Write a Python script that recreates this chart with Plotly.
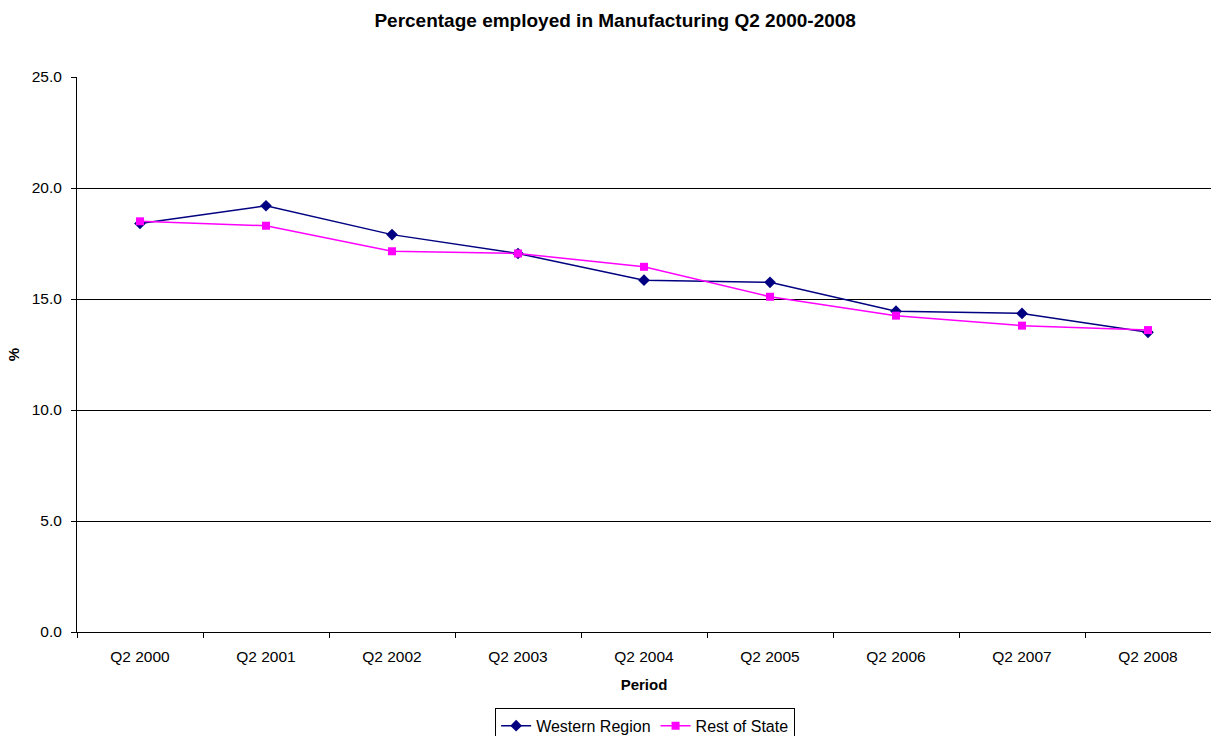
import plotly.graph_objects as go

periods = ["Q2 2000", "Q2 2001", "Q2 2002", "Q2 2003", "Q2 2004",
           "Q2 2005", "Q2 2006", "Q2 2007", "Q2 2008"]
western_region = [18.4, 19.2, 17.9, 17.05, 15.85, 15.75, 14.45, 14.35, 13.5]
rest_of_state = [18.5, 18.3, 17.15, 17.05, 16.45, 15.1, 14.25, 13.8, 13.6]

fig = go.Figure()
fig.add_trace(go.Scatter(
    x=periods, y=western_region, name="Western Region", mode="lines+markers",
    line=dict(color="#000080", width=1.5),
    marker=dict(symbol="diamond", size=9, color="#000080"),
))
fig.add_trace(go.Scatter(
    x=periods, y=rest_of_state, name="Rest of State", mode="lines+markers",
    line=dict(color="#FF00FF", width=1.5),
    marker=dict(symbol="square", size=8, color="#FF00FF"),
))

fig.update_layout(
    width=1211, height=736,
    margin=dict(l=77, r=0, t=77, b=104, autoexpand=False),
    paper_bgcolor="white", plot_bgcolor="white",
    font=dict(family="Liberation Sans, Arial, sans-serif", size=15, color="black"),
    title=dict(text="<b>Percentage employed in Manufacturing Q2 2000-2008</b>",
               x=0.508, xanchor="center", y=0.973, yanchor="middle",
               font=dict(size=19)),
    showlegend=True,
    legend=dict(orientation="h", x=0.501, xanchor="center", y=-0.1365, yanchor="top",
                bordercolor="black", borderwidth=1, font=dict(size=16),
                tracegroupgap=0),
)
fig.update_xaxes(
    type="category", range=[-0.5, 8.5], tickson="boundaries",
    ticks="outside", ticklen=5, tickcolor="black",
    showline=True, linecolor="black", linewidth=1, showgrid=False,
    title=dict(text="<b>Period</b>", font=dict(size=15), standoff=15),
    tickfont=dict(size=15.5), ticklabelstandoff=10,
)
fig.update_yaxes(
    range=[0, 25], dtick=5, tickformat=".1f",
    ticks="outside", ticklen=5, tickcolor="black",
    showline=True, linecolor="black", linewidth=1,
    showgrid=True, gridcolor="black", gridwidth=1, zeroline=False,
    title=dict(text="<b>%</b>", font=dict(size=15), standoff=8),
    tickfont=dict(size=15.5), ticklabelstandoff=6,
)

fig.write_html("out.html")
